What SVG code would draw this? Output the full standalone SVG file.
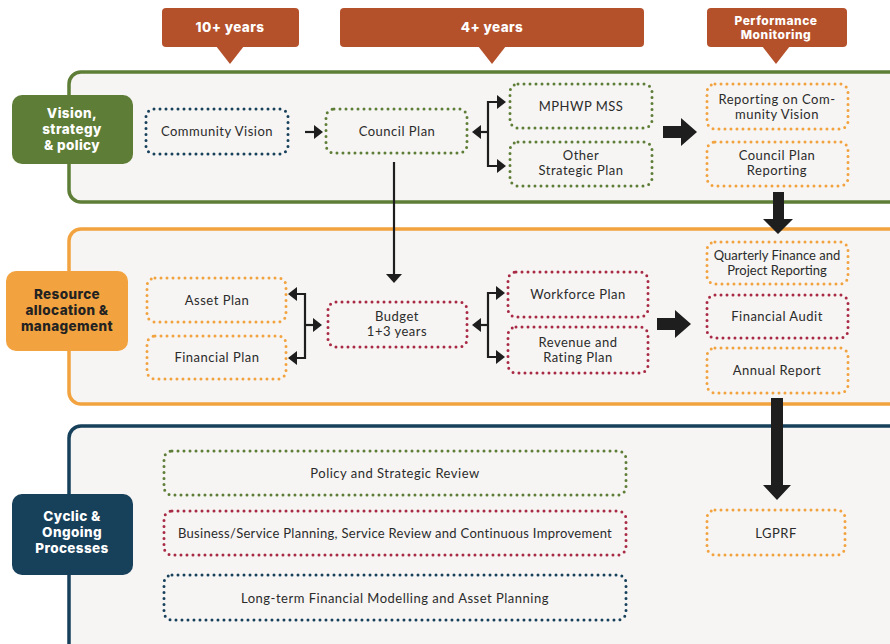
<svg xmlns="http://www.w3.org/2000/svg" width="890" height="644" viewBox="0 0 890 644">
<defs>
<style>
.panel{fill:#f6f5f3;stroke-width:3.5}
.box{fill:none;stroke-width:3;stroke-linecap:round;stroke-dasharray:0 6}
.g{stroke:#5e7d36}.o{stroke:#f2a33f}.r{stroke:#a82a44}.n{stroke:#17405b}
.t{font-family:Lato,"Open Sans",sans-serif;font-size:13px;letter-spacing:0.5px;fill:#2b2b2b;text-anchor:middle}
.lbl{font-family:Inter,"Open Sans",sans-serif;font-weight:800;font-size:13.5px;letter-spacing:0.4px;text-anchor:middle}
.call{fill:#b4502a}
.ln{stroke:#1e1e1e;stroke-width:2.2;fill:none}
.hd{fill:#1e1e1e}
</style>
</defs>
<rect width="890" height="644" fill="#ffffff"/>

<!-- panels -->
<g id="panel-vision">
<rect class="panel" x="69" y="72" width="836" height="130" rx="12" stroke="#5e7d36"/>
</g>
<g id="panel-resource">
<rect class="panel" x="69" y="229" width="836" height="175" rx="12" stroke="#f2a33f"/>
</g>
<g id="panel-cyclic">
<rect class="panel" x="69" y="426" width="836" height="230" rx="12" stroke="#17405b"/>
</g>

<!-- callouts -->
<g id="callout-10">
<rect class="call" x="162" y="8" width="137" height="39" rx="4"/>
<polygon class="call" points="216,46 244,46 230,64"/>
<text class="lbl" x="230" y="32" fill="#ffffff">10+ years</text>
</g>
<g id="callout-4">
<rect class="call" x="340" y="8" width="304" height="39" rx="4"/>
<polygon class="call" points="478,46 506,46 492,64"/>
<text class="lbl" x="492" y="32" fill="#ffffff">4+ years</text>
</g>
<g id="callout-perf">
<rect class="call" x="707" y="8" width="140" height="39" rx="4"/>
<polygon class="call" points="762,46 790,46 776,64"/>
<text class="lbl" x="776" y="25" fill="#ffffff" style="font-size:12px;letter-spacing:0.5px">Performance</text>
<text class="lbl" x="776" y="39" fill="#ffffff" style="font-size:12px;letter-spacing:0.5px">Monitoring</text>
</g>

<!-- side labels -->
<g id="label-vision">
<rect x="12" y="95" width="121" height="69" rx="10" fill="#5e7d36"/>
<text class="lbl" x="72" y="118" fill="#ffffff">Vision,</text>
<text class="lbl" x="72" y="134" fill="#ffffff">strategy</text>
<text class="lbl" x="72" y="150" fill="#ffffff">&amp; policy</text>
</g>
<g id="label-resource">
<rect x="6" y="271" width="122" height="80" rx="10" fill="#f2a33f"/>
<text class="lbl" x="67" y="299" fill="#222222">Resource</text>
<text class="lbl" x="67" y="315" fill="#222222">allocation &amp;</text>
<text class="lbl" x="67" y="331" fill="#222222">management</text>
</g>
<g id="label-cyclic">
<rect x="12" y="494" width="121" height="81" rx="10" fill="#17405b"/>
<text class="lbl" x="72" y="521" fill="#ffffff">Cyclic &amp;</text>
<text class="lbl" x="72" y="537" fill="#ffffff">Ongoing</text>
<text class="lbl" x="72" y="553" fill="#ffffff">Processes</text>
</g>

<!-- nodes row 1 -->
<g id="community-vision">
<rect class="box n" x="146" y="109" width="142" height="45" rx="8"/>
<text class="t" x="217" y="136">Community Vision</text>
</g>
<g id="council-plan">
<rect class="box g" x="326" y="109" width="141" height="44" rx="8"/>
<text class="t" x="397" y="136">Council Plan</text>
</g>
<g id="mphwp">
<rect class="box g" x="510" y="84" width="142" height="44" rx="8"/>
<text class="t" x="581" y="111">MPHWP MSS</text>
</g>
<g id="other-strategic">
<rect class="box g" x="510" y="142" width="142" height="44" rx="8"/>
<text class="t" x="581" y="160">Other</text>
<text class="t" x="581" y="175">Strategic Plan</text>
</g>
<g id="reporting-cv">
<rect class="box o" x="707" y="84" width="141" height="45" rx="8"/>
<text class="t" x="777" y="104">Reporting on Com-</text>
<text class="t" x="777" y="119">munity Vision</text>
</g>
<g id="council-plan-reporting">
<rect class="box o" x="707" y="142" width="141" height="44" rx="8"/>
<text class="t" x="777" y="160">Council Plan</text>
<text class="t" x="777" y="175">Reporting</text>
</g>

<!-- nodes row 2 -->
<g id="asset-plan">
<rect class="box o" x="147" y="278" width="139" height="44" rx="8"/>
<text class="t" x="217" y="305">Asset Plan</text>
</g>
<g id="financial-plan">
<rect class="box o" x="147" y="336" width="139" height="43" rx="8"/>
<text class="t" x="217" y="362">Financial Plan</text>
</g>
<g id="budget">
<rect class="box r" x="328" y="302" width="139" height="45" rx="8"/>
<text class="t" x="397" y="321">Budget</text>
<text class="t" x="397" y="336">1+3 years</text>
</g>
<g id="workforce-plan">
<rect class="box r" x="508" y="272" width="140" height="45" rx="8"/>
<text class="t" x="578" y="299">Workforce Plan</text>
</g>
<g id="revenue-rating">
<rect class="box r" x="508" y="327" width="140" height="46" rx="8"/>
<text class="t" x="578" y="347">Revenue and</text>
<text class="t" x="578" y="362">Rating Plan</text>
</g>
<g id="quarterly">
<rect class="box o" x="707" y="242" width="141" height="42" rx="8"/>
<text class="t" x="777" y="260" style="letter-spacing:0px">Quarterly Finance and</text>
<text class="t" x="777" y="275" style="letter-spacing:0px">Project Reporting</text>
</g>
<g id="financial-audit">
<rect class="box r" x="707" y="295" width="141" height="43" rx="8"/>
<text class="t" x="777" y="321">Financial Audit</text>
</g>
<g id="annual-report">
<rect class="box o" x="707" y="348" width="141" height="45" rx="8"/>
<text class="t" x="777" y="375">Annual Report</text>
</g>

<!-- nodes row 3 -->
<g id="policy-review">
<rect class="box g" x="164" y="451" width="462" height="44" rx="8"/>
<text class="t" x="395" y="478">Policy and Strategic Review</text>
</g>
<g id="business-service">
<rect class="box r" x="164" y="511" width="462" height="44" rx="8"/>
<text class="t" x="395" y="538" style="letter-spacing:0.3px">Business/Service Planning, Service Review and Continuous Improvement</text>
</g>
<g id="long-term">
<rect class="box n" x="164" y="575" width="462" height="45" rx="8"/>
<text class="t" x="395" y="603">Long-term Financial Modelling and Asset Planning</text>
</g>
<g id="lgprf">
<rect class="box o" x="707" y="510" width="138" height="45" rx="8"/>
<text class="t" x="776" y="538">LGPRF</text>
</g>

<!-- connectors -->
<g id="connectors">
<line class="ln" x1="305" y1="132" x2="316" y2="132"/>
<polygon class="hd" points="314,125 323,132 314,139"/>
<polyline class="ln" points="498,102 488,102 488,166 498,166"/>
<line class="ln" x1="480" y1="132" x2="488" y2="132"/>
<polygon class="hd" points="481,125 472,132 481,139"/>
<polygon class="hd" points="497,95 506,102 497,109"/>
<polygon class="hd" points="497,159 506,166 497,173"/>
<polygon class="hd" points="663,126 681,126 681,118 697,132 681,146 681,138 663,138"/>
<polygon class="hd" points="773,192 784,192 784,219 793,219 778,234 763,219 773,219"/>
<line class="ln" x1="394" y1="162" x2="394" y2="276"/>
<polygon class="hd" points="386,274 402,274 394,283"/>
<polyline class="ln" points="297,294 305,294 305,358 297,358"/>
<line class="ln" x1="305" y1="325" x2="314" y2="325"/>
<polygon class="hd" points="297,287 288,294 297,301"/>
<polygon class="hd" points="297,351 288,358 297,365"/>
<polygon class="hd" points="313,318 322,325 313,332"/>
<polyline class="ln" points="497,293 488,293 488,357 497,357"/>
<line class="ln" x1="480" y1="325" x2="488" y2="325"/>
<polygon class="hd" points="481,318 472,325 481,332"/>
<polygon class="hd" points="496,286 505,293 496,300"/>
<polygon class="hd" points="496,350 505,357 496,364"/>
<polygon class="hd" points="657,318 675,318 675,310 691,324 675,338 675,330 657,330"/>
<polygon class="hd" points="771,398 783,398 783,485 791,485 777,500 763,485 771,485"/>
</g>
</svg>
